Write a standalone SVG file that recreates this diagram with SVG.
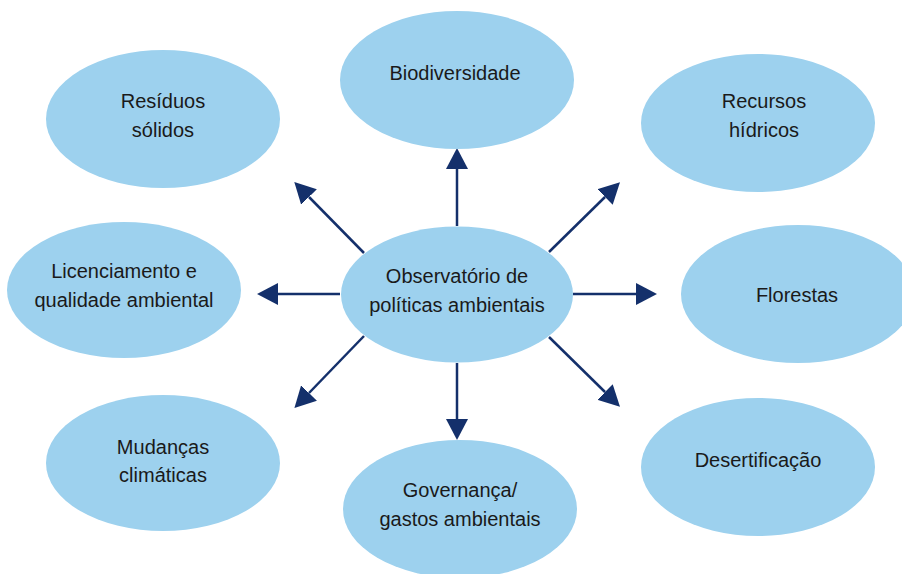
<svg xmlns="http://www.w3.org/2000/svg" width="902" height="574" viewBox="0 0 902 574">
<style>
.node ellipse{fill:#9dd1ee;}
.node text{font-family:"Liberation Sans",Arial,sans-serif;font-size:20px;fill:#1a1a1a;text-anchor:middle;}
.conn line{stroke:#14306b;stroke-width:2.5;marker-end:url(#ah);}
</style>
<defs>
<marker id="ah" markerUnits="userSpaceOnUse" markerWidth="21" markerHeight="22" refX="0" refY="11" orient="auto">
<path d="M0,0 L21,11 L0,22 z" fill="#14306b"/>
</marker>
</defs>
<rect width="902" height="574" fill="#ffffff"/>
<g id="connectors" class="conn">
<line x1="457" y1="226" x2="457" y2="169"/>
<line x1="457" y1="363" x2="457" y2="419"/>
<line x1="340" y1="294" x2="278" y2="294"/>
<line x1="573" y1="294" x2="636" y2="294"/>
<line x1="364" y1="253" x2="309" y2="197"/>
<line x1="549" y1="252" x2="605" y2="197"/>
<line x1="364" y1="336" x2="309" y2="393"/>
<line x1="549" y1="337" x2="605" y2="392"/>
</g>
<g id="center" class="node">
<ellipse cx="457" cy="294.5" rx="116" ry="68"/>
<text x="457" y="283">Observatório de</text>
<text x="457" y="312">políticas ambientais</text>
</g>
<g id="biodiversidade" class="node">
<ellipse cx="457" cy="80" rx="117" ry="69"/>
<text x="455" y="80">Biodiversidade</text>
</g>
<g id="residuos" class="node">
<ellipse cx="163" cy="119" rx="117" ry="69"/>
<text x="163" y="108">Resíduos</text>
<text x="163" y="137">sólidos</text>
</g>
<g id="recursos" class="node">
<ellipse cx="758" cy="123" rx="117" ry="69"/>
<text x="764" y="108">Recursos</text>
<text x="764" y="137">hídricos</text>
</g>
<g id="licenciamento" class="node">
<ellipse cx="124" cy="290" rx="117" ry="68"/>
<text x="124" y="278">Licenciamento e</text>
<text x="124" y="307">qualidade ambiental</text>
</g>
<g id="florestas" class="node">
<ellipse cx="798" cy="294" rx="117" ry="69"/>
<text x="797" y="302">Florestas</text>
</g>
<g id="mudancas" class="node">
<ellipse cx="163" cy="463" rx="117" ry="68"/>
<text x="163" y="454">Mudanças</text>
<text x="163" y="482">climáticas</text>
</g>
<g id="desertificacao" class="node">
<ellipse cx="758" cy="467" rx="117" ry="69"/>
<text x="758" y="467">Desertificação</text>
</g>
<g id="governanca" class="node">
<ellipse cx="460" cy="509" rx="117" ry="69"/>
<text x="460" y="497">Governança/</text>
<text x="460" y="526">gastos ambientais</text>
</g>
</svg>
